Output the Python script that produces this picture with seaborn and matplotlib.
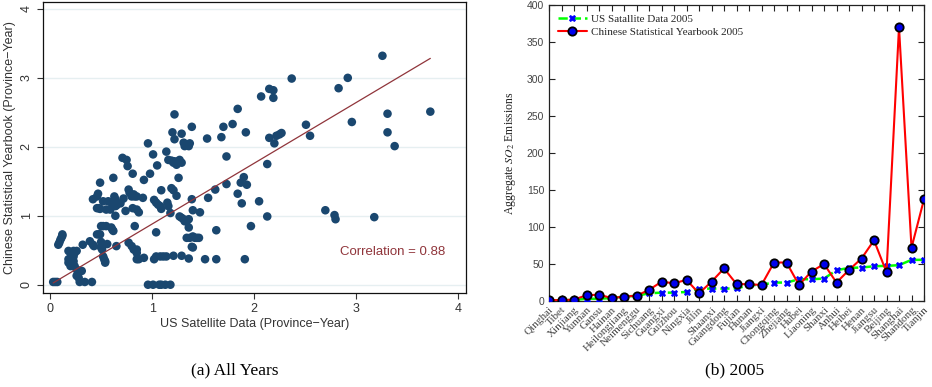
import numpy as np
import pandas as pd
import matplotlib
matplotlib.use("Agg")
import matplotlib.pyplot as plt
import seaborn as sns

# ---------------- Panel (a) data: province-year scatter ----------------
sat_x = [0.03, 0.05, 0.07,
         0.08, 0.09, 0.10, 0.11, 0.12, 0.12,
         0.18, 0.20, 0.21, 0.18, 0.18, 0.20, 0.21,
         0.23, 0.24, 0.26, 0.23, 0.22, 0.23, 0.24, 0.26, 0.28, 0.31,
         0.26, 0.28, 0.29, 0.34, 0.41,
         0.32, 0.39, 0.42, 0.43, 0.42, 0.47, 0.46,
         0.46, 0.49, 0.48, 0.46, 0.48, 0.49, 0.49,
         0.50, 0.52, 0.55,
         0.50, 0.51, 0.50, 0.51, 0.52, 0.53, 0.54, 0.54, 0.56,
         0.52, 0.55, 0.57, 0.60, 0.59, 0.62,
         0.60, 0.61, 0.62, 0.63, 0.64, 0.64, 0.65, 0.64, 0.65, 0.69,
         0.71, 0.75, 0.76, 0.72, 0.74,
         0.77, 0.78, 0.80, 0.82, 0.83, 0.85, 0.81,
         0.77, 0.80, 0.82, 0.83, 0.81, 0.85, 0.87,
         0.85, 0.85, 0.87, 0.85, 0.91, 0.92, 0.92,
         0.96, 0.98, 1.01,
         1.02, 1.04, 1.06, 1.08, 1.09,
         1.02, 1.04, 1.08, 1.11, 1.14, 1.21, 1.29,
         1.05, 1.04, 1.09, 1.14, 1.15, 1.16, 1.18,
         1.16, 1.19, 1.21, 1.22, 1.24, 1.26, 1.27, 1.29,
         1.19, 1.21, 1.20, 1.22, 1.22, 1.24, 1.26,
         1.27, 1.29, 1.31, 1.32, 1.34, 1.36,
         1.29, 1.31, 1.32, 1.36, 1.37, 1.36, 1.36,
         1.39, 1.39, 1.40, 1.39, 1.40,
         1.34, 1.37, 1.40, 1.42, 1.44, 1.46, 1.47,
         1.52, 1.54, 1.55, 1.62, 1.63, 1.63, 1.68, 1.70, 1.73, 1.73,
         1.79, 1.84, 1.84, 1.87, 1.88, 1.90, 1.91, 1.92, 1.93, 1.97,
         2.05, 2.07, 2.13, 2.13, 2.15, 2.15, 2.19, 2.19, 2.20, 2.22,
         2.25, 2.27, 2.37, 2.51, 2.55, 2.70, 2.79, 2.80, 2.83, 2.92,
         2.96, 3.18, 3.26, 3.31, 3.31, 3.38, 3.73,
         0.96, 1.01, 1.07, 1.09, 1.13, 1.18]
yearbook_y = [0.04, 0.04, 0.04,
              0.58, 0.61, 0.65, 0.68, 0.71, 0.73,
              0.49, 0.46, 0.41, 0.37, 0.32, 0.27, 0.30,
              0.49, 0.46, 0.49, 0.41, 0.39, 0.34, 0.27, 0.22, 0.20, 0.20,
              0.13, 0.10, 0.04, 0.04, 0.04,
              0.58, 0.63, 0.58, 0.56, 1.24, 1.32, 1.28,
              1.11, 1.10, 1.11, 0.73, 0.73, 0.73, 1.48,
              0.85, 0.85, 0.85,
              0.62, 0.56, 0.54, 0.51, 0.41, 0.37, 0.34, 0.32, 0.59,
              1.21, 1.09, 1.21, 1.19, 1.09, 1.55,
              0.83, 0.80, 0.78, 1.28, 1.14, 1.00, 0.56, 1.24, 1.15, 1.18,
              1.84, 1.81, 1.72, 1.25, 1.07,
              1.38, 1.33, 1.28, 1.31, 1.28, 1.28, 1.61,
              0.61, 0.56, 0.51, 0.85, 1.11, 1.09, 1.05,
              0.51, 0.46, 0.37, 0.37, 1.26, 1.52, 0.39,
              2.05, 1.61, 1.89,
              1.23, 1.19, 1.16, 1.14, 1.10,
              0.37, 0.41, 0.41, 0.41, 0.41, 0.42, 0.42,
              1.73, 0.76, 1.37, 1.93, 1.19, 1.14, 1.04,
              1.81, 1.80, 1.77, 1.79, 1.74, 1.79, 1.81, 1.77,
              1.40, 1.37, 2.21, 2.11, 2.47, 1.29, 1.55,
              0.99, 0.97, 0.95, 0.92, 0.92, 0.95,
              2.19, 2.06, 2.01, 2.01, 2.05, 0.83, 0.38,
              1.24, 2.29, 1.08, 0.55, 0.54,
              0.68, 0.68, 0.70, 0.68, 0.68, 0.68, 1.05,
              0.37, 2.12, 1.26, 1.38, 0.37, 0.79, 2.14, 2.29, 1.86, 1.46,
              2.33, 1.32, 2.55, 1.48, 1.18, 1.56, 0.37, 2.21, 1.45, 0.85,
              1.21, 2.73, 1.75, 0.99, 2.84, 2.13, 2.82, 2.71, 2.05, 2.16,
              2.18, 2.20, 2.99, 2.32, 2.16, 1.08, 1.01, 0.95, 2.85, 3.00,
              2.36, 0.98, 3.32, 2.48, 2.21, 2.01, 2.51,
              0.0, 0.0, 0.0, 0.0, 0.0, 0.0]
fit_intercept = 0.0
fit_slope = 0.88
correlation_label = "Correlation = 0.88"

# ---------------- Panel (b) data: 2005 by province ----------------
provinces = ["Qinghai", "Tibet", "Xinjiang", "Yunnan", "Gansu", "Hainan",
             "Heilongjiang", "Neimenggu", "Sichuang", "Guangxi", "Guizhou",
             "Ningxia", "Jilin", "Shaanxi", "Guangdong", "Fujian", "Hunan",
             "Jiangxi", "Chongqing", "Zhejiang", "Hubei", "Liaoning", "Shanxi",
             "Anhui", "Heibei", "Henan", "Jiangsu", "Beijing", "Shanghai",
             "Shandong", "Tianjin"]
us_satellite_2005 = [1.0, 1.0, 1.5, 3.0, 3.0, 4.0, 6.0, 7.0, 10.4, 11.3, 11.3,
                     12.2, 16.7, 16.7, 16.7, 17.0, 21.2, 22.0, 24.9, 24.9, 29.4,
                     29.4, 30.3, 41.6, 44.8, 45.2, 47.0, 47.5, 48.4, 55.6, 55.6]
yearbook_2005 = [1.4, 1.0, 2.0, 7.7, 8.6, 4.0, 5.9, 7.2, 15.0, 26.0, 24.0,
                 28.5, 10.4, 26.0, 44.0, 23.0, 22.6, 21.7, 52.0, 52.0, 21.7,
                 39.8, 50.0, 24.9, 42.0, 57.4, 82.0, 38.9, 370.0, 71.9, 137.4]

# ---------------- Figure ----------------
sns.set_theme(style="white")
plt.rcParams["font.family"] = ["Liberation Sans", "DejaVu Sans"]
plt.rcParams["mathtext.fontset"] = "stix"

W, H = 932, 387
fig = plt.figure(figsize=(W / 100, H / 100), dpi=100)
fig.patch.set_facecolor("white")

# ---- Panel (a)
ax1 = fig.add_axes([43 / W, 1 - 293 / H, 423 / W, 291 / H])
df_a = pd.DataFrame({"sat": sat_x, "ybk": yearbook_y})
navy = "#1a476f"
maroon = "#90353b"
ax1.set_axisbelow(True)
ax1.yaxis.grid(True, color="#e6eff1", linewidth=1.0)
sns.scatterplot(data=df_a, x="sat", y="ybk", ax=ax1, color=navy, s=38,
                edgecolor="none", linewidth=0, zorder=3)
fx = np.array([min(sat_x), max(sat_x)])
df_fit = pd.DataFrame({"x": fx, "y": fit_intercept + fit_slope * fx})
sns.lineplot(data=df_fit, x="x", y="y", ax=ax1, color=maroon, linewidth=0.9,
             zorder=4)
ax1.set_xlim(-0.07, 4.08)
ax1.set_ylim(-0.12, 4.10)
ax1.set_xticks([0, 1, 2, 3, 4])
ax1.set_yticks([0, 1, 2, 3, 4])
ax1.set_yticklabels(["0", "1", "2", "3", "4"], rotation=90, va="center")
ax1.tick_params(axis="both", direction="out", length=4, width=0.8,
                labelsize=9, colors="#333333", bottom=True, left=True)
ax1.set_xlabel("US Satellite Data (Province\u2212Year)", fontsize=9,
               color="#333333", labelpad=2)
ax1.set_ylabel("Chinese Statistical Yearbook (Province\u2212Year)", fontsize=9,
               color="#333333", labelpad=3)
for sp in ax1.spines.values():
    sp.set_visible(True)
    sp.set_color("#111111")
    sp.set_linewidth(0.9)
ax1.text(3.88, 0.47, correlation_label, color=maroon, fontsize=9.5,
         ha="right", va="center")

# ---- Panel (b)
ax2 = fig.add_axes([549 / W, 1 - 301 / H, 375 / W, 296 / H])
pos = list(range(len(provinces)))
df_b = pd.DataFrame({"pos": pos, "us": us_satellite_2005, "cn": yearbook_2005})
sns.lineplot(data=df_b, x="pos", y="us", ax=ax2, color="#00ff00", linewidth=1.8,
             linestyle="--", marker="X", markersize=4.5, markerfacecolor="blue",
             markeredgecolor="blue", markeredgewidth=0.5,
             label="US Satallite Data 2005", zorder=3)
sns.lineplot(data=df_b, x="pos", y="cn", ax=ax2, color="red", linewidth=1.5,
             marker="o", markersize=6, markerfacecolor="#0000ee",
             markeredgecolor="black", markeredgewidth=1.3,
             label="Chinese Statistical Yearbook 2005", zorder=4)
ax2.set_xlim(0, len(provinces) - 1)
ax2.set_ylim(0, 400)
ax2.set_xticks(pos)
ax2.set_xticklabels(provinces, rotation=45, ha="right", rotation_mode="anchor",
                    family=["Liberation Serif", "DejaVu Serif"], fontsize=8,
                    color="#444444")
ax2.set_yticks(range(0, 401, 50))
ax2.tick_params(axis="y", labelsize=7.5, colors="#444444")
ax2.tick_params(axis="both", direction="in", length=4, width=0.8,
                top=True, right=True, bottom=True, left=True, color="#222222")
ax2.tick_params(axis="x", pad=3)
ax2.set_xlabel("")
ax2.set_ylabel("Aggregate $SO_2$ Emissions", fontsize=8.5,
               family=["Liberation Serif", "DejaVu Serif"], color="#222222",
               labelpad=6)
for sp in ax2.spines.values():
    sp.set_visible(True)
    sp.set_color("#222222")
    sp.set_linewidth(0.9)
leg = ax2.legend(loc="upper left", frameon=False,
                 prop={"family": ["Liberation Serif", "DejaVu Serif"], "size": 8},
                 handlelength=2.6, handletextpad=0.4, borderaxespad=0.4,
                 labelspacing=0.3)

# ---- Captions
serif = ["Liberation Serif", "DejaVu Serif"]
fig.text(235 / W, 1 - 370 / H, "(a) All Years", ha="center", va="center",
         family=serif, fontsize=12.5, color="black")
fig.text(735 / W, 1 - 370 / H, "(b) 2005", ha="center", va="center",
         family=serif, fontsize=12.5, color="black")

fig.savefig("out.png", dpi=100, facecolor="white")
